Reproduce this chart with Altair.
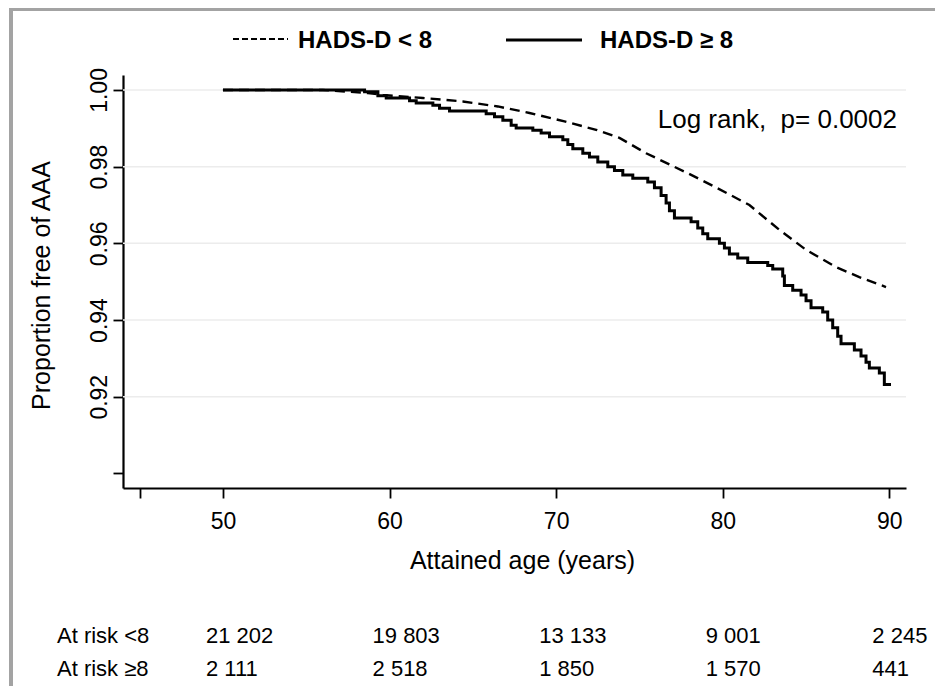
import altair as alt
import pandas as pd

# ---- data ----
ages_low = [50.0, 56.0, 58.7, 59.6, 62.0, 64.4, 66.5, 68.4, 70.5, 72.4, 73.8,
            75.4, 77.8, 79.5, 81.6, 83.4, 85.0, 86.8, 88.2, 89.8]
surv_low = [1.0000, 1.0000, 0.9992, 0.9987, 0.9979, 0.9970, 0.9957, 0.9940,
            0.9918, 0.9896, 0.9875, 0.9835, 0.9785, 0.9748, 0.9700, 0.9635,
            0.9583, 0.9538, 0.9512, 0.9486]

ages_high = [50.0, 58.5, 59.3, 59.8, 61.2, 61.6, 62.6, 63.0, 63.6, 65.8, 66.3,
             66.8, 67.3, 67.6, 68.6, 69.1, 69.6, 70.4, 70.7, 71.0, 71.6, 72.0,
             72.5, 73.1, 73.5, 74.0, 74.6, 75.5, 75.9, 76.3, 76.6, 76.8, 77.1,
             78.1, 78.5, 78.8, 79.1, 79.8, 80.1, 80.4, 80.9, 81.5, 82.7, 83.0,
             83.6, 83.7, 84.2, 84.7, 85.0, 85.3, 86.0, 86.3, 86.6, 86.9, 87.1,
             87.9, 88.3, 88.6, 88.8, 89.4, 89.7, 90.1]
surv_high = [1.0000, 0.9995, 0.9985, 0.9979, 0.9972, 0.9966, 0.9960, 0.9952,
             0.9945, 0.9938, 0.9930, 0.9921, 0.9908, 0.9901, 0.9895, 0.9888,
             0.9878, 0.9870, 0.9858, 0.9847, 0.9835, 0.9825, 0.9812, 0.9800,
             0.9790, 0.9778, 0.9770, 0.9760, 0.9745, 0.9725, 0.9705, 0.9685,
             0.9666, 0.9656, 0.9640, 0.9625, 0.9612, 0.9600, 0.9588, 0.9572,
             0.9562, 0.9550, 0.9542, 0.9533, 0.9515, 0.9490, 0.9478, 0.9465,
             0.9450, 0.9432, 0.9421, 0.9400, 0.9380, 0.9358, 0.9338, 0.9322,
             0.9306, 0.9290, 0.9275, 0.9262, 0.9232, 0.9232]

x_ticks = [45, 50, 60, 70, 80, 90]
y_ticks = [0.90, 0.92, 0.94, 0.96, 0.98, 1.00]
grid_vals = [0.92, 0.94, 0.96, 0.98, 1.00]

risk_ages = [50, 60, 70, 80, 90]
risk_low = ["21 202", "19 803", "13 133", "9 001", "2 245"]
risk_high = ["2 111", "2 518", "1 850", "1 570", "441"]
risk_row_labels = ["At risk <8", "At risk \u22658"]

legend_labels = ["HADS-D < 8", "HADS-D \u2265 8"]
annotation = "Log rank,\u00a0 p= 0.0002"
x_title = "Attained age (years)"
y_title = "Proportion free of AAA"

# ---- tables ----
df_low = pd.DataFrame({"age": ages_low, "surv": surv_low})
df_high = pd.DataFrame({"age": ages_high, "surv": surv_high})
df_grid = pd.DataFrame({"surv": grid_vals})
df_risk_low = pd.DataFrame({"age": risk_ages, "n": risk_low})
df_risk_high = pd.DataFrame({"age": risk_ages, "n": risk_high})
one = pd.DataFrame({"k": [0]})

FONT = "Liberation Sans"
W, H = 783, 413

xscale = alt.Scale(domain=[44, 91], nice=False, zero=False)
yscale = alt.Scale(domain=[0.8962, 1.0039], nice=False, zero=False)

xaxis = alt.Axis(
    values=x_ticks, labelExpr="datum.value == 45 ? '' : datum.label",
    title=x_title, grid=False, domainColor="black", domainWidth=2.2,
    tickColor="black", tickWidth=1.8, tickSize=10, labelFontSize=23,
    labelFont=FONT, labelColor="black", labelPadding=30,
    labelBaseline="alphabetic", labelFlush=False, labelOverlap=False,
    titleFont=FONT, titleFontSize=25, titleFontWeight="normal",
    titleColor="black", titleBaseline="alphabetic", titleY=80, titleX=399,
)
yaxis = alt.Axis(
    values=y_ticks,
    labelExpr="datum.value < 0.91 ? '' : format(datum.value, '.2f')",
    title=y_title, grid=False, domainColor="black", domainWidth=2.2,
    tickColor="black", tickWidth=1.8, tickSize=10, labelFontSize=23,
    labelFont=FONT, labelColor="black", labelPadding=7, labelAngle=270,
    labelAlign="center", labelBaseline="alphabetic", labelFlush=False,
    labelOverlap=False,
    titleFont=FONT, titleFontSize=25, titleFontWeight="normal",
    titleColor="black", titleAngle=270, titleBaseline="alphabetic",
    titleAlign="center", titleX=-74, titleY=210,
)

X = alt.X("age:Q", scale=xscale, axis=xaxis)
Y = alt.Y("surv:Q", scale=yscale, axis=yaxis)

grid = alt.Chart(df_grid).mark_rule(color="#ececec", strokeWidth=1.5).encode(y=Y)

line_low = alt.Chart(df_low).mark_line(
    color="black", strokeWidth=2.4, strokeDash=[10, 6]
).encode(x=X, y=Y)

line_high = alt.Chart(df_high).mark_line(
    color="black", strokeWidth=3, interpolate="step-after"
).encode(x=X, y=Y)

txt = dict(font=FONT, color="black", baseline="alphabetic")

risk1 = alt.Chart(df_risk_low).mark_text(align="left", dx=-17, fontSize=22, **txt).encode(
    x=X, y=alt.value(568), text="n:N")
risk2 = alt.Chart(df_risk_high).mark_text(align="left", dx=-17, fontSize=22, **txt).encode(
    x=X, y=alt.value(601), text="n:N")
risk_lab1 = alt.Chart(one).mark_text(align="left", fontSize=22, **txt).encode(
    x=alt.value(-66), y=alt.value(568), text=alt.value(risk_row_labels[0]))
risk_lab2 = alt.Chart(one).mark_text(align="left", fontSize=22, **txt).encode(
    x=alt.value(-66), y=alt.value(601), text=alt.value(risk_row_labels[1]))

logrank = alt.Chart(one).mark_text(align="right", fontSize=26, **txt).encode(
    x=alt.value(774), y=alt.value(53), text=alt.value(annotation))

# legend (drawn above the plot)
leg_dash = alt.Chart(one).mark_rule(color="black", strokeWidth=1.8, strokeDash=[6, 3]).encode(
    x=alt.value(110), x2=alt.value(165), y=alt.value(-36))
leg_solid = alt.Chart(one).mark_rule(color="black", strokeWidth=3).encode(
    x=alt.value(383), x2=alt.value(459), y=alt.value(-35))
leg_t1 = alt.Chart(one).mark_text(align="left", fontSize=24, fontWeight="bold", **txt).encode(
    x=alt.value(175), y=alt.value(-27), text=alt.value(legend_labels[0]))
leg_t2 = alt.Chart(one).mark_text(align="left", fontSize=24, fontWeight="bold", **txt).encode(
    x=alt.value(477), y=alt.value(-27), text=alt.value(legend_labels[1]))

# outer grey frame
frame_left = alt.Chart(one).mark_rule(color="#a3a3a3", strokeWidth=4).encode(
    x=alt.value(-112), y=alt.value(-68), y2=alt.value(611))
frame_top = alt.Chart(one).mark_rule(color="#a3a3a3", strokeWidth=4).encode(
    x=alt.value(-114), x2=alt.value(812), y=alt.value(-66))

chart = alt.layer(
    grid, line_low, line_high, risk1, risk2, risk_lab1, risk_lab2, logrank,
    leg_dash, leg_solid, leg_t1, leg_t2, frame_left, frame_top
).properties(
    width=W, height=H,
    autosize=alt.AutoSizeParams(type="none"),
    padding={"left": 115, "top": 67, "right": 29, "bottom": 198},
    background="white",
).configure_view(stroke=None)

chart.save("out.html", embed_options={"renderer": "svg", "actions": False})
